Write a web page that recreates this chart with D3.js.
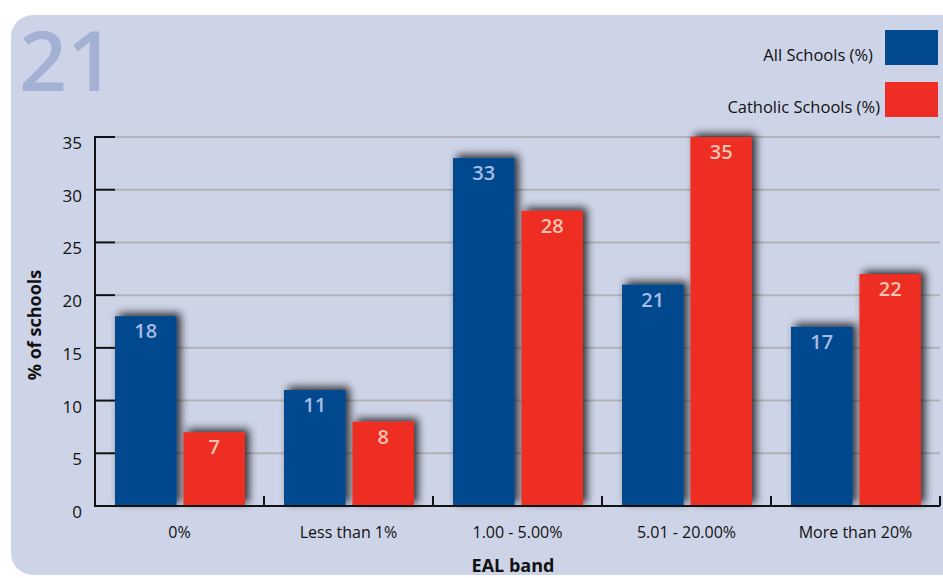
<!DOCTYPE html>
<html>
<head>
<meta charset="utf-8">
<script src="https://cdn.jsdelivr.net/npm/d3@7"></script>
<style>
  html, body { margin: 0; padding: 0; background: #ffffff; }
  svg { display: block; font-family: "Open Sans", "Noto Sans", sans-serif; font-weight: 500; }
</style>
</head>
<body>
<svg id="chart" width="943" height="578"></svg>
<script>
// EAL bands and the share of schools in each, for all schools and Catholic schools
const categories = ["0%", "Less than 1%", "1.00 - 5.00%", "5.01 - 20.00%", "More than 20%"];
const allSchools = [18, 11, 33, 21, 17];
const catholicSchools = [7, 8, 28, 35, 22];
const seriesNames = ["All Schools (%)", "Catholic Schools (%)"];
const yTicks = [0, 5, 10, 15, 20, 25, 30, 35];

const colors = ["#014a8f", "#ee2e24"];
const labelColors = ["#a9bce2", "#f8c4b4"];

const svg = d3.select("#chart");

// panel background
svg.append("rect")
  .attr("x", 11).attr("y", 15)
  .attr("width", 960).attr("height", 560)
  .attr("rx", 22).attr("ry", 22)
  .attr("fill", "#ced4e7");

// figure number
svg.append("text")
  .attr("x", 19).attr("y", 91)
  .attr("font-size", 84).attr("font-weight", 600)
  .attr("fill", "#a3b1d4")
  .text("21");

// drop shadow for bars
const defs = svg.append("defs");
const f = defs.append("filter").attr("id", "shadow")
  .attr("x", "-30%").attr("y", "-30%").attr("width", "160%").attr("height", "160%");
f.append("feGaussianBlur").attr("in", "SourceAlpha").attr("stdDeviation", 4.5).attr("result", "blur");
f.append("feOffset").attr("in", "blur").attr("dx", 4).attr("dy", -3).attr("result", "off");
f.append("feComponentTransfer").attr("in", "off").attr("result", "shade")
  .append("feFuncA").attr("type", "linear").attr("slope", 0.8);
const m = f.append("feMerge");
m.append("feMergeNode").attr("in", "shade");
m.append("feMergeNode").attr("in", "SourceGraphic");

const x0 = 95, x1 = 940, yTop = 137, yBot = 506;
const x = d3.scaleBand().domain(categories).range([x0, x1]).paddingInner(0).paddingOuter(0);
const xs = d3.scaleBand().domain([0, 1]).range([20, 150]).paddingInner(0.1);
const y = d3.scaleLinear().domain([0, 35]).range([yBot, yTop]);

// gridlines
svg.append("g").selectAll("line").data(yTicks.filter(d => d > 0)).join("line")
  .attr("x1", x0 + 20).attr("x2", x1)
  .attr("y1", d => y(d)).attr("y2", d => y(d))
  .attr("stroke", "#b2b2b6").attr("stroke-width", 2);

// bars
const data = categories.map((c, i) => ({ c, vals: [allSchools[i], catholicSchools[i]] }));
const groups = svg.append("g").selectAll("g").data(data).join("g")
  .attr("transform", d => `translate(${x(d.c)},0)`);

groups.selectAll("rect").data(d => d.vals.map((v, k) => ({ v, k }))).join("rect")
  .attr("x", d => xs(d.k))
  .attr("width", xs.bandwidth())
  .attr("y", d => y(d.v))
  .attr("height", d => y(0) - y(d.v))
  .attr("fill", d => colors[d.k])
  .attr("filter", "url(#shadow)");

groups.selectAll("text").data(d => d.vals.map((v, k) => ({ v, k }))).join("text")
  .attr("x", d => xs(d.k) + xs.bandwidth() / 2)
  .attr("y", d => y(d.v) + 22)
  .attr("text-anchor", "middle")
  .attr("font-size", 20).attr("font-weight", 600)
  .attr("fill", d => labelColors[d.k])
  .text(d => d.v);

// y axis
const yAxis = svg.append("g");
yAxis.append("line")
  .attr("x1", x0).attr("x2", x0).attr("y1", yTop - 1).attr("y2", yBot + 1)
  .attr("stroke", "#111").attr("stroke-width", 2);
yAxis.selectAll("line.tick").data(yTicks).join("line").attr("class", "tick")
  .attr("x1", x0).attr("x2", x0 + 20)
  .attr("y1", d => y(d)).attr("y2", d => y(d))
  .attr("stroke", "#111").attr("stroke-width", 2);
yAxis.selectAll("text").data(yTicks).join("text")
  .attr("x", 82).attr("y", d => y(d) + 12)
  .attr("text-anchor", "end")
  .attr("font-size", 17)
  .attr("fill", "#111")
  .text(d => d);

// x axis
const xAxis = svg.append("g");
xAxis.append("line")
  .attr("x1", x0).attr("x2", x1).attr("y1", yBot).attr("y2", yBot)
  .attr("stroke", "#111").attr("stroke-width", 2);
xAxis.selectAll("line.tick").data(categories).join("line").attr("class", "tick")
  .attr("x1", d => x(d) + x.bandwidth()).attr("x2", d => x(d) + x.bandwidth())
  .attr("y1", yBot).attr("y2", yBot - 10)
  .attr("stroke", "#111").attr("stroke-width", 2);
xAxis.selectAll("text").data(categories).join("text")
  .attr("x", d => x(d) + x.bandwidth() / 2)
  .attr("y", 538)
  .attr("text-anchor", "middle")
  .attr("font-size", 16)
  .attr("fill", "#111")
  .text(d => d);

// axis titles
svg.append("text")
  .attr("x", 513).attr("y", 572)
  .attr("text-anchor", "middle")
  .attr("font-size", 18).attr("font-weight", "bold")
  .attr("fill", "#111")
  .text("EAL band");
svg.append("text")
  .attr("transform", "translate(41,325) rotate(-90)")
  .attr("text-anchor", "middle")
  .attr("font-size", 18).attr("font-weight", "bold")
  .attr("fill", "#111")
  .text("% of schools");

// legend
const legY = [30, 82];
const leg = svg.append("g").selectAll("g").data(seriesNames).join("g");
leg.append("rect")
  .attr("x", 885).attr("y", (d, i) => legY[i])
  .attr("width", 53).attr("height", 35)
  .attr("fill", (d, i) => colors[i]);
leg.append("text")
  .attr("x", (d, i) => i === 0 ? 873 : 880)
  .attr("y", (d, i) => legY[i] + 31)
  .attr("text-anchor", "end")
  .attr("font-size", 16.5)
  .attr("fill", "#111")
  .text(d => d);
</script>
</body>
</html>
